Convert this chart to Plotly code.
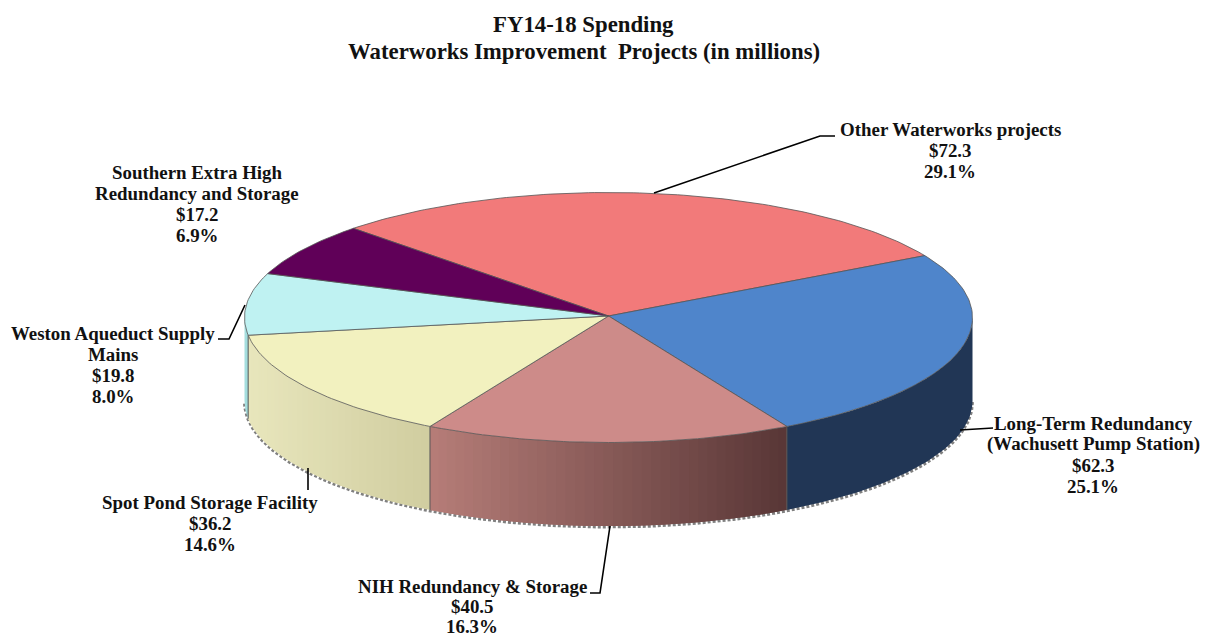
import math
import plotly.graph_objects as go

categories = [["Other Waterworks projects"], ["Long-Term Redundancy", "(Wachusett Pump Station)"],
              ["NIH Redundancy &amp; Storage"], ["Spot Pond Storage Facility"],
              ["Weston Aqueduct Supply", "Mains"], ["Southern Extra High", "Redundancy and Storage"]]
values = [72.3, 62.3, 40.5, 36.2, 19.8, 17.2]
percent_labels = ["29.1%", "25.1%", "16.3%", "14.6%", "8.0%", "6.9%"]
top_colors = ["#F27A7A", "#4F85CB", "#CD8B89", "#F2F1BF", "#BFF2F2", "#600058"]
wall_left = [(242, 122, 122), (33, 54, 85), (182, 125, 120), (232, 230, 188), (165, 222, 222), (96, 0, 88)]
wall_right = [(242, 122, 122), (33, 54, 85), (88, 54, 54), (208, 205, 160), (165, 222, 222), (96, 0, 88)]
label_x = [950, 1093, 472, 210, 113, 197]
label_top = [129, 423, 586, 502, 333, 172]
label_gap = [21.2, 21.2, 20.2, 21.2, 21.2, 21.2]
title_lines = ["FY14-18 Spending", "Waterworks Improvement  Projects (in millions)"]

CX, CY, RX, RY, DEPTH = 608.5, 317.5, 364, 125, 83.5
APEX_Y = 316
START = 315.5  # degrees clockwise from 12 o'clock


def pt(deg, dy=0):
    r = math.radians(deg)
    return CX + RX * math.sin(r), CY - RY * math.cos(r) + dy


def arc(a, b, dy=0, step=1.0):
    n = max(2, int(abs(b - a) / step) + 1)
    return [pt(a + (b - a) * i / (n - 1), dy) for i in range(n)]


def poly(points, fill, line=None, width=0, dash=None):
    xs = [p[0] for p in points]
    ys = [p[1] for p in points]
    return go.Scatter(x=xs, y=ys, mode="lines", fill="toself" if fill else None, fillcolor=fill,
                      line=dict(color=line or fill or "rgba(0,0,0,0)", width=width, dash=dash),
                      hoverinfo="skip", showlegend=False)


total = sum(values)
angles = []
a = START
for v in values:
    angles.append((a, a + v / total * 360))
    a += v / total * 360

fig = go.Figure()

# bottom fringe
fig.add_trace(poly(arc(90, 270, DEPTH + 1), None, "#808080", 3, "3px,2px"))

# walls of the slices facing the viewer
for i, (a0, a1) in enumerate(angles):
    lo, hi = a0 % 360, (a0 % 360) + (a1 - a0)
    for shift in (0, 360, -360):
        s0 = max(lo + shift, 90)
        s1 = min(hi + shift, 270)
        if s1 <= s0:
            continue
        solid = wall_left[i] == wall_right[i]
        strips = 1 if solid else max(1, int((s1 - s0) / 1.5))
        xl, xr = pt(s1)[0], pt(s0)[0]  # angles run clockwise along the front: s0 is the right end
        for k in range(strips):
            u0 = s0 + (s1 - s0) * k / strips
            u1 = s0 + (s1 - s0) * (k + 1) / strips
            t = (pt((u0 + u1) / 2)[0] - xl) / (xr - xl)
            c = tuple(round(wall_left[i][j] + (wall_right[i][j] - wall_left[i][j]) * t) for j in range(3))
            col = "rgb(%d,%d,%d)" % c
            # each strip runs on under the next one, so that no seam shows
            u2 = min(s1, u1 + 1.5)
            pts = arc(u0, u2) + arc(u2, u0, DEPTH)
            fig.add_trace(poly(pts + [pts[0]], col))
        if 90 < s0 < 270:
            fig.add_trace(poly([pt(s0), pt(s0, DEPTH)], None, "#555555", 1))

# top faces
for i, (a0, a1) in enumerate(angles):
    pts = [(CX, APEX_Y)] + arc(a0, a1) + [(CX, APEX_Y)]
    fig.add_trace(poly(pts, top_colors[i], "#555555", 0.8))

# leader lines
for lx, ly in [((654, 820, 835), (193, 136, 136)),
               ((960, 993), (430, 428)),
               ((610, 600, 590), (526, 593, 593)),
               ((308, 308), (468, 490)),
               ((245, 229, 218), (305, 339, 339))]:
    fig.add_trace(go.Scatter(x=lx, y=ly, mode="lines", line=dict(color="black", width=1.6),
                             hoverinfo="skip", showlegend=False))

font = dict(family="Liberation Serif", size=18.9, color="#111111")
for i, name in enumerate(categories):
    lines = name + ["$%.1f" % values[i], percent_labels[i]]
    for n, line in enumerate(lines):
        fig.add_annotation(x=label_x[i], y=label_top[i] + n * label_gap[i], xref="x", yref="y", showarrow=False,
                           text="<b>%s</b>" % line, font=font, xanchor="center", yanchor="middle")

for n, line in enumerate(title_lines):
    fig.add_annotation(x=583.5, y=24 + n * 27, xref="x", yref="y", showarrow=False, text="<b>%s</b>" % line,
                       font=dict(family="Liberation Serif", size=22.8, color="#111111"),
                       xanchor="center", yanchor="middle")

fig.update_layout(width=1212, height=637, margin=dict(l=0, r=0, t=0, b=0), autosize=False,
                  paper_bgcolor="white", plot_bgcolor="white", showlegend=False)
fig.update_xaxes(range=[0, 1212], visible=False, fixedrange=True)
fig.update_yaxes(range=[637, 0], visible=False, fixedrange=True)

fig.write_html("out.html", post_script="document.body.style.margin='0';", config=dict(displayModeBar=False))
